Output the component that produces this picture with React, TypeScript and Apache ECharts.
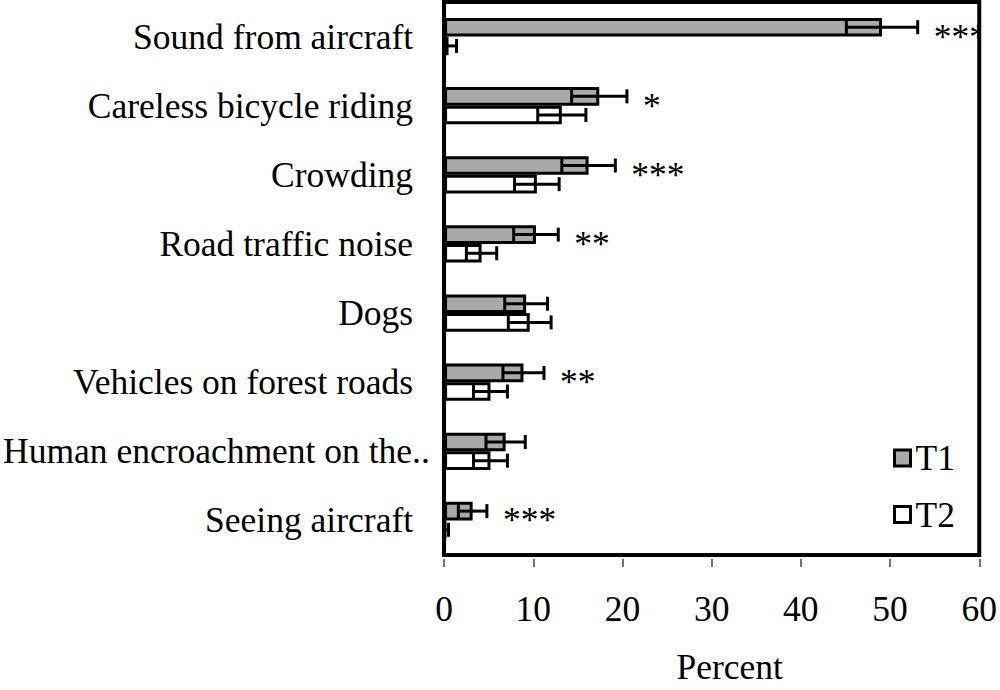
import React, { useEffect, useRef } from "react";
import * as echarts from "echarts";

const categories = [
  "Sound from aircraft",
  "Careless bicycle riding",
  "Crowding",
  "Road traffic noise",
  "Dogs",
  "Vehicles on forest roads",
  "Human encroachment on the..",
  "Seeing aircraft",
];
const t1 = [49.1, 17.4, 16.2, 10.3, 9.2, 8.9, 6.9, 3.2];
const t1Err = [4.0, 3.1, 3.0, 2.5, 2.4, 2.3, 2.2, 1.6];
const t2 = [0.5, 13.2, 10.4, 4.2, 9.6, 5.2, 5.2, 0.2];
const t2Err = [0.9, 2.7, 2.5, 1.7, 2.4, 1.9, 1.9, 0.3];
const significance = ["***", "*", "***", "**", "", "**", "", "***"];
const xTicks = { min: 0, max: 60, interval: 10 };

const FONT = "'Liberation Serif', 'Times New Roman', serif";
const FS = 35.5;
const CAT_GAP = 0.46;

export default function App() {
  const ref = useRef<HTMLDivElement>(null);
  useEffect(() => {
    document.body.style.margin = "0";
    const chart = echarts.init(ref.current!, null, { renderer: "svg" });
    const barFrac = (1 - CAT_GAP) / 2;

    const errRender = (side: number) => (params: any, api: any) => {
      const idx = api.value(2);
      const lo = api.coord([api.value(0), idx]);
      const hi = api.coord([api.value(1), idx]);
      const band = api.size([0, 1])[1];
      const y = lo[1] + (side * band * barFrac) / 2;
      const cap = 7;
      const st = { stroke: "#000", lineWidth: 3 };
      return {
        type: "group",
        children: [
          { type: "line", shape: { x1: lo[0], y1: y, x2: hi[0], y2: y }, style: st },
          { type: "line", shape: { x1: lo[0], y1: y - cap, x2: lo[0], y2: y + cap }, style: st },
          { type: "line", shape: { x1: hi[0], y1: y - cap, x2: hi[0], y2: y + cap }, style: st },
        ],
      };
    };

    chart.setOption({
      animation: false,
      grid: {
        left: 443,
        right: 17,
        top: 2,
        bottom: 124,
        show: true,
        borderColor: "#000",
        borderWidth: 4,
        backgroundColor: "transparent",
      },
      legend: {
        data: ["T1", "T2"],
        orient: "vertical",
        left: 893,
        top: 440,
        padding: 0,
        itemGap: 20.5,
        itemWidth: 16,
        itemHeight: 16,
        icon: "rect",
        selectedMode: false,
        textStyle: { fontSize: FS, fontFamily: FONT, color: "#000" },
        itemStyle: { borderColor: "#000", borderWidth: 3 },
      },
      xAxis: {
        type: "value",
        min: xTicks.min,
        max: xTicks.max,
        interval: xTicks.interval,
        offset: 4,
        axisLine: { show: false },
        axisTick: { show: true, length: 8, lineStyle: { color: "#444", width: 1.5 } },
        splitLine: { show: false },
        axisLabel: { margin: 32, fontSize: FS, fontFamily: FONT, color: "#000" },
        name: "Percent",
        nameLocation: "middle",
        nameGap: 90,
        nameTextStyle: { fontSize: FS, fontFamily: FONT, color: "#000", padding: [0, 0, 0, 36] },
      },
      yAxis: {
        type: "category",
        data: categories,
        inverse: true,
        axisLine: { show: true, lineStyle: { color: "#000", width: 4 } },
        axisTick: { show: false },
        axisLabel: {
          interval: 0,
          margin: 31,
          fontSize: FS,
          fontFamily: FONT,
          color: "#000",
          formatter: (v: string) =>
            v.endsWith("..") ? "{m|" + v.slice(0, -2) + "}{d|..}" : v,
          rich: {
            m: { align: "left", fontSize: FS, fontFamily: FONT, color: "#000" },
            d: { align: "left", width: 1, fontSize: FS, fontFamily: FONT, color: "#000" },
          },
        },
      },
      series: [
        {
          name: "T1",
          type: "bar",
          data: t1,
          barGap: "0%",
          barCategoryGap: CAT_GAP * 100 + "%",
          itemStyle: { color: "#a9a9a9", borderColor: "#000", borderWidth: 3 },
        },
        {
          name: "T2",
          type: "bar",
          data: t2,
          barGap: "0%",
          barCategoryGap: CAT_GAP * 100 + "%",
          itemStyle: { color: "#fff", borderColor: "#000", borderWidth: 3 },
        },
        {
          name: "errT1",
          type: "custom",
          clip: true,
          encode: { x: [0, 1], y: 2 },
          renderItem: errRender(-1),
          data: categories.map((_, i) => [t1[i] - t1Err[i], t1[i] + t1Err[i], i]),
          z: 5,
        },
        {
          name: "errT2",
          type: "custom",
          clip: true,
          encode: { x: [0, 1], y: 2 },
          renderItem: errRender(1),
          data: categories.map((_, i) => [t2[i] - t2Err[i], t2[i] + t2Err[i], i]),
          z: 5,
        },
        {
          name: "sig",
          type: "custom",
          clip: true,
          encode: { x: 0, y: 1 },
          renderItem: (params: any, api: any) => {
            const p = api.coord([api.value(0), api.value(1)]);
            return {
              type: "text",
              x: p[0] + 16,
              y: p[1],
              style: {
                text: significance[params.dataIndex],
                fontSize: FS,
                fontFamily: FONT,
                fill: "#000",
                align: "left",
                verticalAlign: "middle",
              },
            };
          },
          data: categories.map((_, i) => [t1[i] + t1Err[i], i]),
          z: 5,
        },
      ],
    });
    return () => chart.dispose();
  }, []);
  return <div ref={ref} style={{ width: 1000, height: 690 }} />;
}
